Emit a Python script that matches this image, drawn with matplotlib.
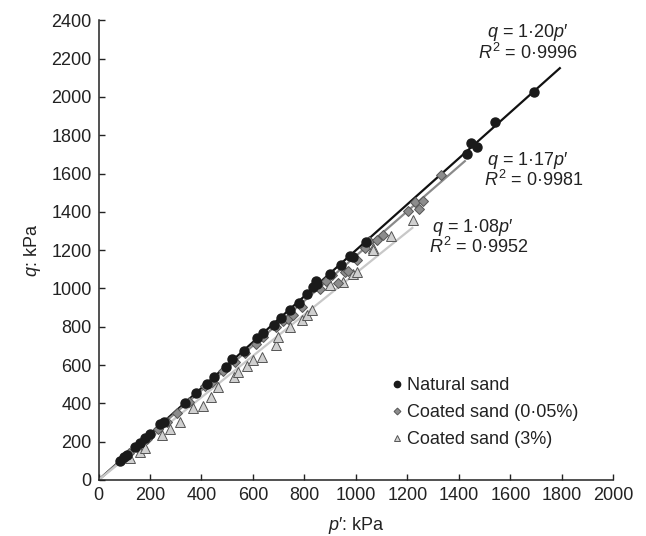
import matplotlib
matplotlib.use("Agg")
import matplotlib.pyplot as plt
import numpy as np

plt.rcParams['font.family'] = ['Liberation Sans', 'DejaVu Sans']
plt.rcParams['mathtext.fontset'] = 'custom'
plt.rcParams['mathtext.rm'] = 'Liberation Sans'
plt.rcParams['mathtext.it'] = 'Liberation Sans:italic'

# Natural sand
nat_p = [85, 100, 110, 140, 160, 180, 200, 240, 255, 335, 380, 420, 450, 495, 520, 565,
         615, 640, 680, 710, 745, 780, 810, 832, 845, 850, 900, 940, 975, 990, 1040,
         1430, 1445, 1469, 1540, 1691]
nat_q = [100, 118, 132, 170, 195, 220, 240, 292, 305, 402, 452, 500, 540, 592, 630, 675,
         740, 765, 810, 845, 890, 925, 970, 1008, 1040, 1025, 1075, 1120, 1172, 1165, 1243,
         1701, 1760, 1739, 1869, 2026]
# Coated sand (0.05%)
c05_p = [95, 120, 150, 190, 230, 265, 305, 350, 415, 440, 485, 530, 570, 610, 640, 690,
         718, 735, 757, 790, 860, 885, 906, 931, 957, 970, 1003, 1035, 1050, 1080, 1106,
         1203, 1229, 1246, 1261, 1330]
c05_q = [112, 140, 172, 215, 268, 305, 352, 405, 490, 510, 570, 615, 665, 710, 748, 800,
         828, 840, 860, 905, 995, 1040, 1070, 1030, 1085, 1090, 1150, 1210, 1248, 1255, 1280,
         1405, 1450, 1417, 1457, 1590]
# Coated sand (3%)
c3_p = [122, 161, 181, 245, 278, 317, 368, 405, 436, 465, 526, 543, 576, 601, 634, 689,
        698, 744, 789, 811, 828, 899, 948, 990, 1003, 1067, 1065, 1135, 1220]
c3_q = [113, 148, 165, 235, 264, 304, 374, 388, 435, 487, 536, 565, 595, 626, 640, 704,
        748, 797, 838, 861, 887, 1017, 1035, 1078, 1087, 1209, 1203, 1273, 1356]

slopes = [1.20, 1.17, 1.08]
line_end = [1792, 1423, 1219]
eq_labels = [r"$q$ = 1·20$p$′", r"$q$ = 1·17$p$′", r"$q$ = 1·08$p$′"]
r2_labels = [r"$R^2$ = 0·9996", r"$R^2$ = 0·9981", r"$R^2$ = 0·9952"]
eq_pos = [(1668, 2335), (1668, 1670), (1455, 1320)]
r2_pos = [(1668, 2230), (1690, 1565), (1478, 1215)]

xticks = list(range(0, 2001, 200))
yticks = list(range(0, 2401, 200))

fig = plt.figure(figsize=(6.46, 5.36), dpi=100)
ax = fig.add_axes([0.1525, 0.1045, 0.797, 0.8575])

line_colors = ['#111111', '#8a8a8a', '#c8c8c8']
for s, e, c in zip(slopes, line_end, line_colors):
    xs = np.array([0, e])
    ax.plot(xs, s * xs, color=c, lw=1.6, zorder=2)

ax.plot(c3_p, c3_q, linestyle='none', marker='^', ms=6.5, mfc='#d0d0d0', mec='#555555',
        mew=0.7, zorder=3, label='Coated sand (3%)')
ax.plot(c05_p, c05_q, linestyle='none', marker='D', ms=5, mfc='#8c8c8c', mec='#555555',
        mew=0.7, zorder=4, label='Coated sand (0·05%)')
ax.plot(nat_p, nat_q, linestyle='none', marker='o', ms=6.5, mfc='#1a1a1a', mec='#1a1a1a',
        zorder=5, label='Natural sand')

for t, (x, y) in zip(eq_labels, eq_pos):
    ax.text(x, y, t, fontsize=13, ha='center', va='center', color='#222222')
for t, (x, y) in zip(r2_labels, r2_pos):
    ax.text(x, y, t, fontsize=13, ha='center', va='center', color='#222222')

ax.set_xlim(0, 2000)
ax.set_ylim(0, 2400)
ax.set_xticks(xticks)
ax.set_yticks(yticks)
ax.tick_params(direction='in', length=4, width=1, labelsize=13, colors='#222222', pad=5)
for sp in ['top', 'right']:
    ax.spines[sp].set_visible(False)
for sp in ['left', 'bottom']:
    ax.spines[sp].set_linewidth(1.1)
    ax.spines[sp].set_color('#222222')

ax.set_xlabel(r"$p$′: kPa", fontsize=13, color='#222222', labelpad=8)
ax.set_ylabel(r"$q$: kPa", fontsize=13, color='#222222', labelpad=6)

h, l = ax.get_legend_handles_labels()
ax.legend(h[::-1], l[::-1], loc='upper left', bbox_to_anchor=(0.555, 0.24), frameon=False,
          fontsize=13, handlelength=0.6, handletextpad=0.25, labelspacing=0.57,
          borderaxespad=0, labelcolor='#222222', markerscale=0.7)

fig.savefig('out.png', dpi=100)
